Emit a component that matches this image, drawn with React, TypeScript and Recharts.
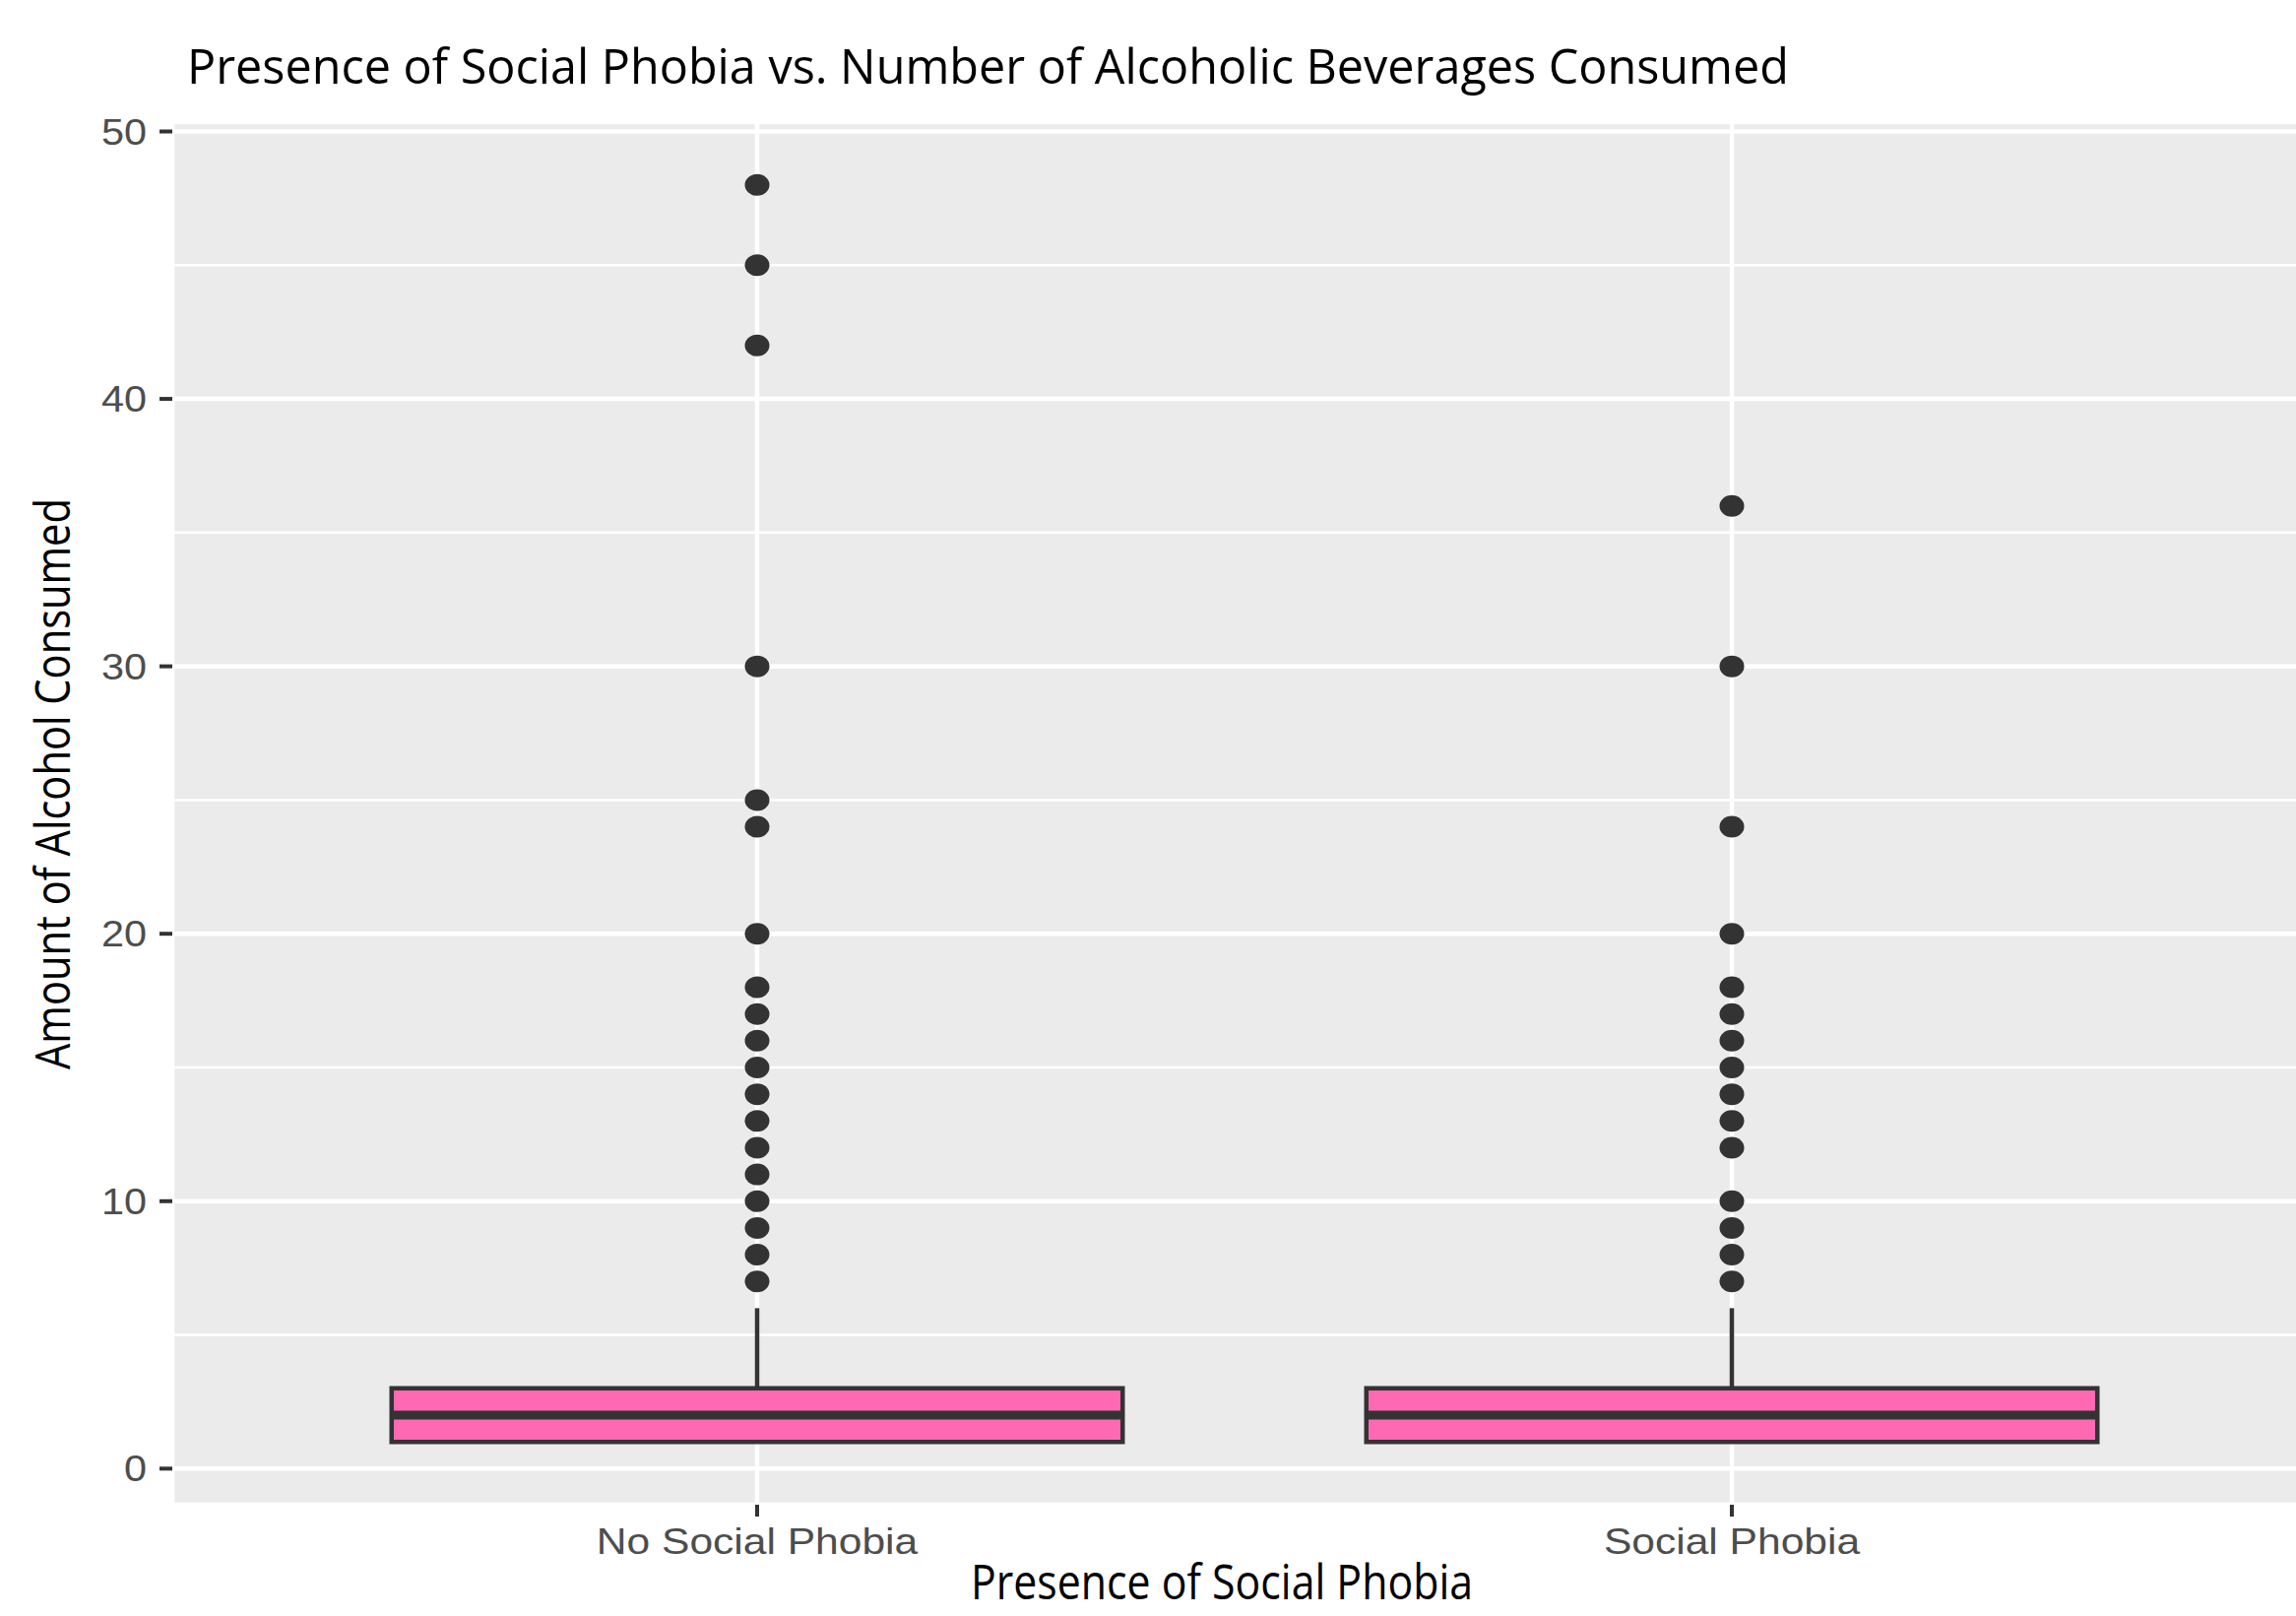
import React from 'react';
import { ComposedChart, XAxis, YAxis, CartesianGrid, Scatter, ReferenceArea, ReferenceLine } from 'recharts';

// box statistics per group
const categories = ['No Social Phobia', 'Social Phobia'];
const lowerHinge = [1, 1];
const medians = [2, 2];
const upperHinge = [3, 3];
const upperWhisker = [6, 6];

// outliers drawn as dots
const noPhobiaOutliers = [48, 45, 42, 30, 25, 24, 20, 18, 17, 16, 15, 14, 13, 12, 11, 10, 9, 8, 7];
const phobiaOutliers = [36, 30, 24, 20, 18, 17, 16, 15, 14, 13, 12, 10, 9, 8, 7];

const yTicks = [0, 10, 20, 30, 40, 50];
const yMinorTicks = [5, 15, 25, 35, 45];
const yDomain: [number, number] = [-1.35, 50.35];

const INK = '#333333';
const PINK = '#FF69B4';
const BOX_WIDTH = 0.75;

const outlierData = [
    ...noPhobiaOutliers.map(y => ({ x: 1, y })),
    ...phobiaOutliers.map(y => ({ x: 2, y })),
];

const YTick = (props: any) => {
    const { x, y, payload } = props;
    return (
        <text
            transform={`translate(${x},${y}) scale(1.12,1)`}
            textAnchor="end"
            dy="0.355em"
            fill="#4D4D4D"
            fontSize={37}
            fontFamily="'Liberation Sans', Arial, sans-serif"
        >
            {payload.value}
        </text>
    );
};

const XTick = (props: any) => {
    const { x, y, payload } = props;
    return (
        <text
            transform={`translate(${x},${y}) scale(1.15,1)`}
            textAnchor="middle"
            dy="0.71em"
            fill="#4D4D4D"
            fontSize={37}
            fontFamily="'Liberation Sans', Arial, sans-serif"
        >
            {categories[payload.value - 1]}
        </text>
    );
};

const Dot = (props: any) => <ellipse cx={props.cx} cy={props.cy} rx={12.5} ry={11} fill={INK} />;

export default function App() {
    const titleFont = "'Open Sans', 'Noto Sans', sans-serif";
    return (
        <div style={{ position: 'relative', width: 2332, height: 1641, overflow: 'hidden', background: '#fff' }}>
            <style>{'body{margin:0}'}</style>
            <ComposedChart
                width={2353}
                height={1641}
                data={outlierData}
                margin={{ top: 124, right: 0, bottom: 0, left: 0 }}
            >
                <CartesianGrid fill="#EBEBEB" fillOpacity={1} stroke="#FFFFFF" strokeWidth={4.5} />
                <XAxis
                    type="number"
                    dataKey="x"
                    domain={[0.4, 2.6]}
                    ticks={[1, 2]}
                    height={113}
                    axisLine={false}
                    tickSize={12}
                    tickMargin={12}
                    tickLine={{ stroke: INK, strokeWidth: 4 }}
                    tick={<XTick />}
                    interval={0}
                    allowDataOverflow
                />
                <YAxis
                    type="number"
                    dataKey="y"
                    domain={yDomain}
                    ticks={yTicks}
                    width={175}
                    axisLine={false}
                    tickSize={13}
                    tickMargin={13}
                    tickLine={{ stroke: INK, strokeWidth: 4 }}
                    tick={<YTick />}
                    interval={0}
                    allowDataOverflow
                />
                {/* minor grid lines */}
                {yMinorTicks.map(v => (
                    <ReferenceLine key={`minor-${v}`} y={v} stroke="#FFFFFF" strokeWidth={2.5} />
                ))}
                {categories.map((c, i) => (
                    <ReferenceLine
                        key={`wh-${c}`}
                        segment={[{ x: i + 1, y: upperHinge[i] }, { x: i + 1, y: upperWhisker[i] }]}
                        stroke={INK}
                        strokeWidth={4.5}
                    />
                ))}
                {categories.map((c, i) => (
                    <ReferenceArea
                        key={`box-${c}`}
                        x1={i + 1 - BOX_WIDTH / 2}
                        x2={i + 1 + BOX_WIDTH / 2}
                        y1={lowerHinge[i]}
                        y2={upperHinge[i]}
                        fill={PINK}
                        fillOpacity={1}
                        stroke={INK}
                        strokeWidth={4.5}
                    />
                ))}
                {categories.map((c, i) => (
                    <ReferenceLine
                        key={`med-${c}`}
                        segment={[{ x: i + 1 - BOX_WIDTH / 2, y: medians[i] }, { x: i + 1 + BOX_WIDTH / 2, y: medians[i] }]}
                        stroke={INK}
                        strokeWidth={9}
                    />
                ))}
                <Scatter dataKey="y" fill={INK} shape={<Dot />} isAnimationActive={false} />
            </ComposedChart>
            <svg width={2332} height={1641} style={{ position: 'absolute', left: 0, top: 0, pointerEvents: 'none' }}>
                <text x={190} y={85} fontSize={50} fontFamily={titleFont} fill="#000" textLength={1627} lengthAdjust="spacingAndGlyphs">
                    Presence of Social Phobia vs. Number of Alcoholic Beverages Consumed
                </text>
                <text
                    x={71}
                    y={796}
                    fontSize={50}
                    fontFamily={titleFont}
                    fill="#000"
                    textAnchor="middle"
                    transform="rotate(-90, 71, 796)"
                    textLength={580}
                    lengthAdjust="spacingAndGlyphs"
                >
                    Amount of Alcohol Consumed
                </text>
                <text x={1241} y={1624} fontSize={50} fontFamily={titleFont} fill="#000" textAnchor="middle" textLength={510} lengthAdjust="spacingAndGlyphs">
                    Presence of Social Phobia
                </text>
            </svg>
        </div>
    );
}
